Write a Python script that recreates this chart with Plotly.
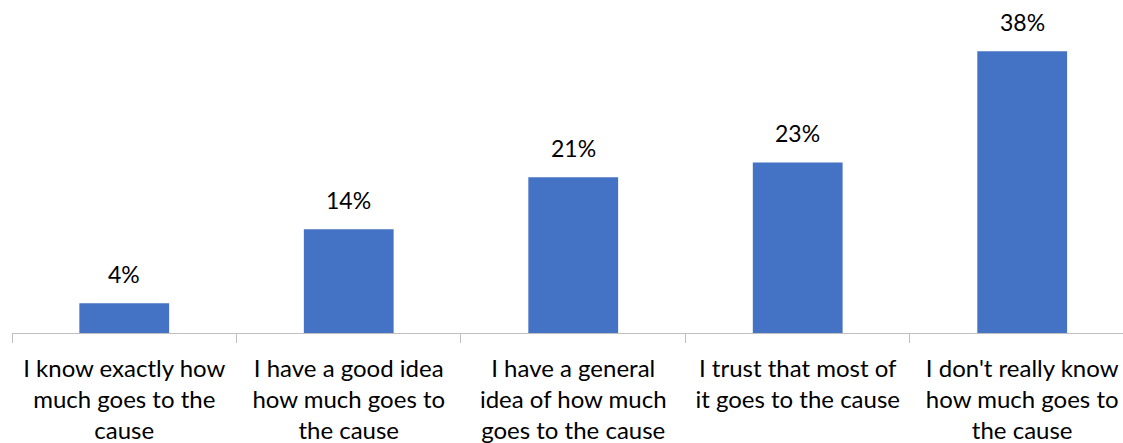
import plotly.graph_objects as go

categories = [
    "I know exactly how<br>much goes to the<br>cause",
    "I have a good idea<br>how much goes to<br>the cause",
    "I have a general<br>idea of how much<br>goes to the cause",
    "I trust that most of<br>it goes to the cause",
    "I don't really know<br>how much goes to<br>the cause",
]
values = [4, 14, 21, 23, 38]
value_labels = ["4%", "14%", "21%", "23%", "38%"]

FONT = "Lato"

fig = go.Figure(
    go.Bar(
        x=categories,
        y=values,
        marker=dict(color="#4472C4", line=dict(width=0)),
        width=0.4,
        hoverinfo="skip",
    )
)

for cat, v, t in zip(categories, values, value_labels):
    fig.add_annotation(
        x=cat, y=v, text=t, showarrow=False,
        yanchor="bottom", yshift=13,
        font=dict(family=FONT, size=23, color="#000000"),
    )

fig.update_layout(
    width=1123, height=443,
    margin=dict(l=12, r=0, t=0, b=110),
    paper_bgcolor="white", plot_bgcolor="white",
    showlegend=False,
    font=dict(family=FONT, size=24, color="#000000"),
)
fig.update_xaxes(
    type="category",
    range=[-0.5, 4.449],
    automargin=False,
    showline=True, linecolor="#BFBFBF", linewidth=1,
    ticks="outside", tickson="boundaries",
    ticklen=9, tickcolor="#BFBFBF", tickwidth=1,
    ticklabelstandoff=14,
    showgrid=False, zeroline=False,
    tickangle=0,
)
fig.update_yaxes(
    range=[0, 44.9], visible=False, showgrid=False, zeroline=False,
    automargin=False,
)

fig.write_html("out.html")
